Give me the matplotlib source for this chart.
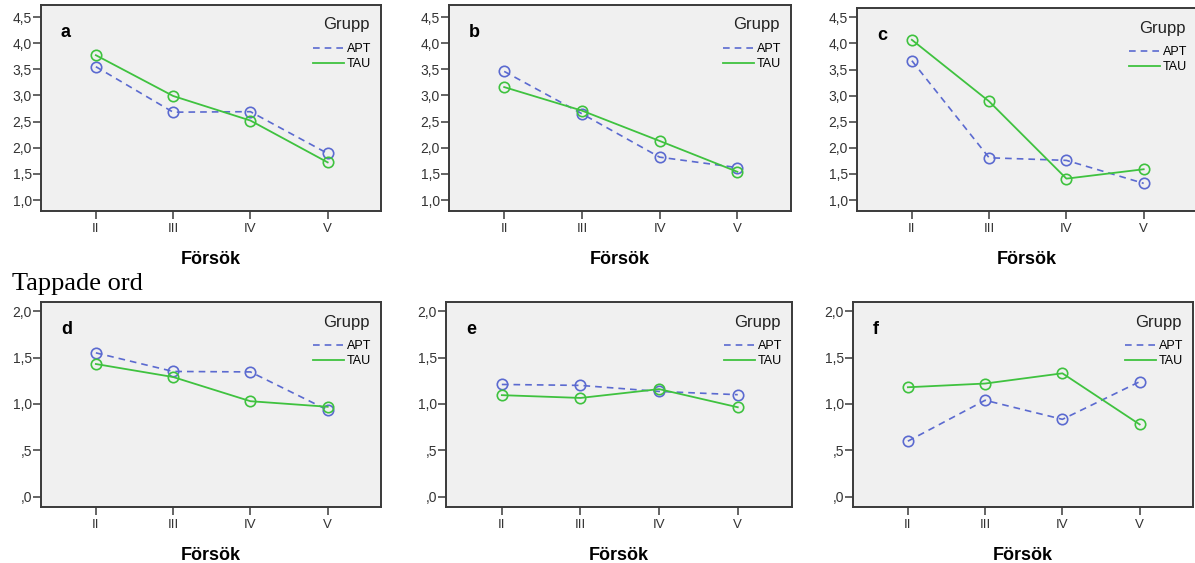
import matplotlib
matplotlib.use("Agg")
import matplotlib.pyplot as plt
from matplotlib.lines import Line2D

plt.rcParams["font.family"] = ["Liberation Sans", "DejaVu Sans"]

# ---- data ----
trials = ["II", "III", "IV", "V"]
letters = ["a", "b", "c", "d", "e", "f"]

apt_a = [3.55, 2.68, 2.69, 1.89]
tau_a = [3.77, 2.99, 2.52, 1.72]
apt_b = [3.46, 2.65, 1.82, 1.62]
tau_b = [3.16, 2.71, 2.13, 1.54]
apt_c = [3.67, 1.81, 1.76, 1.32]
tau_c = [4.07, 2.89, 1.41, 1.59]
apt_d = [1.55, 1.35, 1.345, 0.935]
tau_d = [1.43, 1.29, 1.03, 0.97]
apt_e = [1.21, 1.20, 1.135, 1.10]
tau_e = [1.095, 1.065, 1.16, 0.965]
apt_f = [0.60, 1.04, 0.835, 1.24]
tau_f = [1.18, 1.22, 1.33, 0.78]

apt_all = [apt_a, apt_b, apt_c, apt_d, apt_e, apt_f]
tau_all = [tau_a, tau_b, tau_c, tau_d, tau_e, tau_f]

top_ticks = [1.0, 1.5, 2.0, 2.5, 3.0, 3.5, 4.0, 4.5]
top_labels = ["1,0", "1,5", "2,0", "2,5", "3,0", "3,5", "4,0", "4,5"]
bot_ticks = [0.0, 0.5, 1.0, 1.5, 2.0]
bot_labels = [",0", ",5", "1,0", "1,5", "2,0"]

APT_COLOR = "#5b6ad0"
TAU_COLOR = "#3fc23f"
BG = "#f0f0f0"

W, H = 1195, 563
fig = plt.figure(figsize=(W / 100, H / 100), dpi=100)

# axes boxes in pixels: left, right, top, bottom
boxes = [
    (41, 381, 5, 211),
    (449, 791, 5, 211),
    (857, 1197, 8, 211),
    (41, 381, 302, 507),
    (446, 792, 302, 507),
    (853, 1193, 302, 507),
]

x = list(range(len(trials)))

for i, (l, r, t, b) in enumerate(boxes):
    ax = fig.add_axes([l / W, (H - b) / H, (r - l) / W, (b - t) / H])
    ax.set_facecolor(BG)
    w, h = r - l, b - t

    ax.plot(x, apt_all[i], color=APT_COLOR, lw=1.2, ls=(0, (4, 3)),
            marker="o", ms=7.5, mfc="none", mec=APT_COLOR, mew=1.2)
    ax.plot(x, tau_all[i], color=TAU_COLOR, lw=1.3,
            marker="o", ms=7.5, mfc="none", mec=TAU_COLOR, mew=1.2)

    ax.set_xlim(-0.71, 3.69)
    ax.set_xticks(x)
    ax.set_xticklabels(trials)
    if i < 3:
        ax.set_ylim(0.79, 4.73 if i < 2 else 4.68)
        ax.set_yticks(top_ticks)
        ax.set_yticklabels(top_labels)
    else:
        ax.set_ylim(-0.108, 2.097)
        ax.set_yticks(bot_ticks)
        ax.set_yticklabels(bot_labels)

    for s in ax.spines.values():
        s.set_color("#3a3a3a")
        s.set_linewidth(1.4)
    ax.tick_params(axis="both", direction="out", length=5.5, width=1.1,
                   color="#3a3a3a", labelcolor="#333333", labelsize=10)
    ax.tick_params(axis="y", pad=1)
    ax.tick_params(axis="x", pad=3, labelsize=9.5)

    ax.set_xlabel("Försök", fontsize=13, fontweight="bold", labelpad=12)

    ax.text(20 / w, 1 - 32 / h, letters[i], transform=ax.transAxes,
            fontsize=13, fontweight="bold", va="baseline", ha="left")

    # legend: title drawn separately so the gap above the entries matches
    ax.text(1 - 11 / w, 1 - 20 / h, "Grupp", transform=ax.transAxes,
            fontsize=12, color="#222222", ha="right", va="center")
    handles = [
        Line2D([], [], color=APT_COLOR, lw=1.2, ls=(0, (4, 3))),
        Line2D([], [], color=TAU_COLOR, lw=1.3),
    ]
    ax.legend(handles, ["APT", "TAU"], loc="upper right",
              bbox_to_anchor=(1 - 10 / w, 1 - 38 / h),
              frameon=False, fontsize=9,
              handlelength=2.5, handletextpad=0.2, labelspacing=0.25,
              borderpad=0, borderaxespad=0)

fig.text(12 / W, 1 - 290 / H, "Tappade ord", family="Liberation Serif",
         fontsize=19, va="baseline", ha="left")

fig.savefig("out.png", dpi=100)
